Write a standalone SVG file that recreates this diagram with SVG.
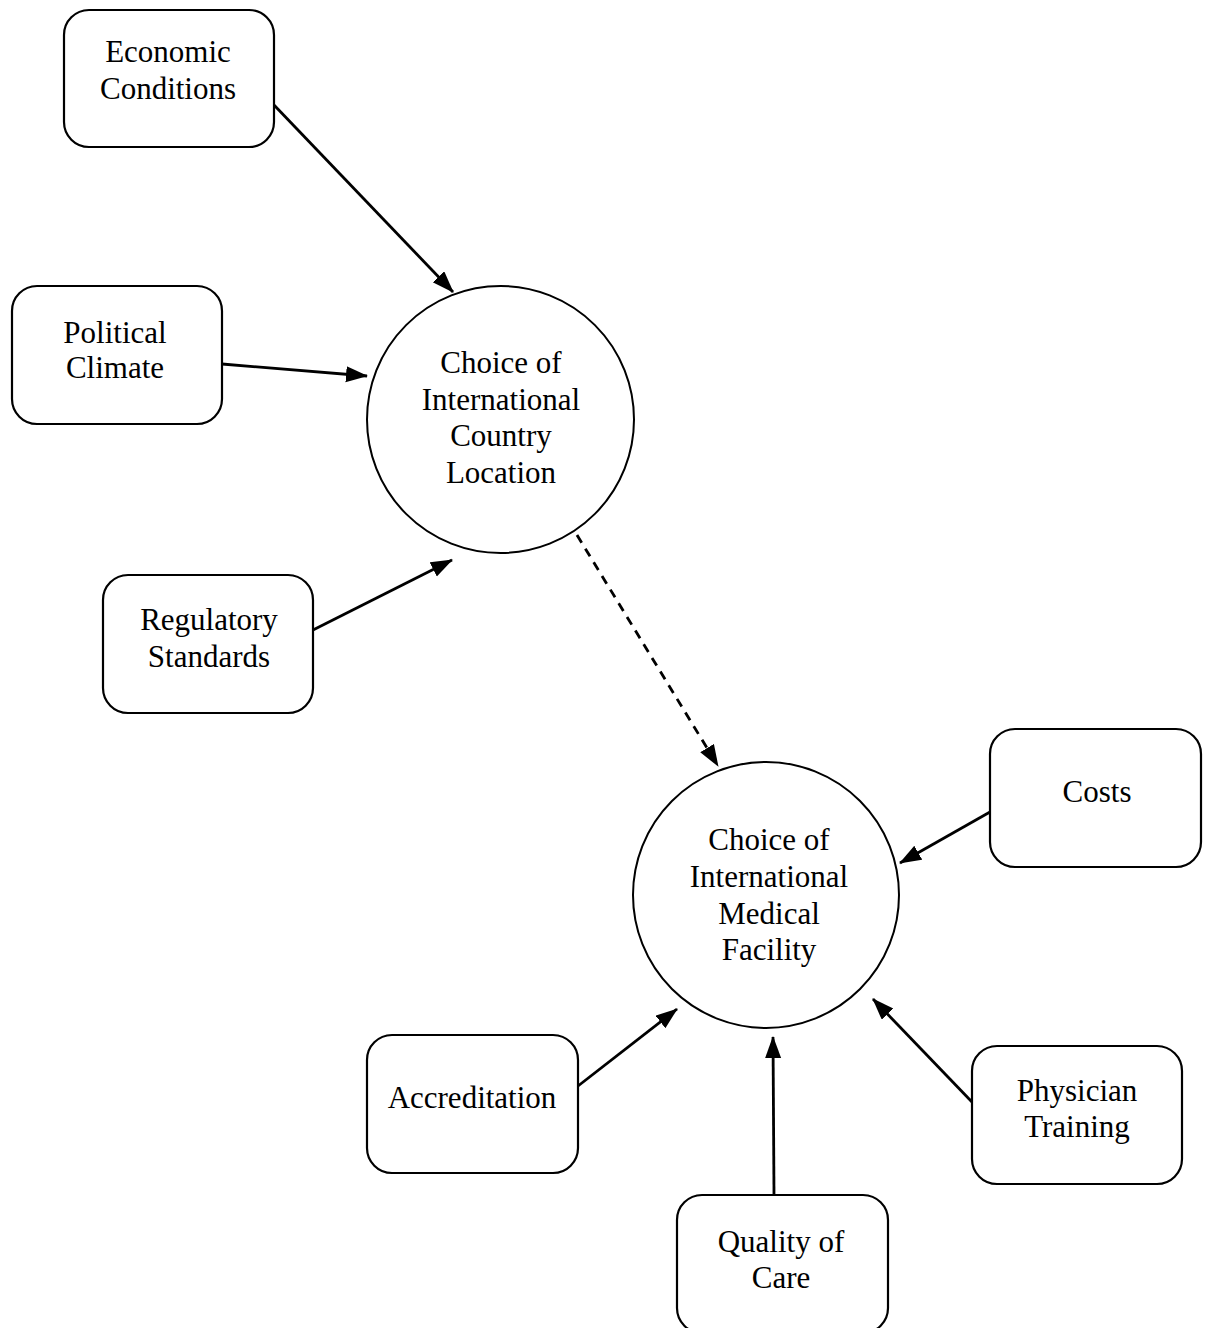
<svg xmlns="http://www.w3.org/2000/svg" width="1208" height="1328" viewBox="0 0 1208 1328">
<style>
.box{fill:#fff;stroke:#000;stroke-width:2.2}
.circ{fill:#fff;stroke:#000;stroke-width:2}
.lbl{font-family:"Liberation Serif","Times New Roman",serif;font-size:31px;fill:#000;text-anchor:middle}
.arr{fill:none;stroke:#000;stroke-width:2.8;marker-end:url(#ah)}
.dash{stroke-dasharray:9 7}
</style>
<defs>
<marker id="ah" markerUnits="userSpaceOnUse" markerWidth="26" markerHeight="20" refX="21" refY="8" orient="auto">
<path d="M0,0 L22,8 L0,16 Z" fill="#000"/>
</marker>
</defs>
<rect width="1208" height="1328" fill="#fff"/>
<g id="connectors">
<line class="arr" x1="274" y1="105" x2="453" y2="292"/>
<line class="arr" x1="222" y1="364" x2="367" y2="376"/>
<line class="arr" x1="313" y1="630" x2="452" y2="560"/>
<line class="arr dash" x1="577" y1="535" x2="718" y2="766"/>
<line class="arr" x1="990" y1="812" x2="900" y2="863"/>
<line class="arr" x1="578" y1="1086" x2="677" y2="1009"/>
<line class="arr" x1="774" y1="1195" x2="773" y2="1037"/>
<line class="arr" x1="972" y1="1102" x2="873" y2="999"/>
</g>
<g id="economic">
<rect class="box" x="64" y="10" width="210" height="137" rx="25"/>
<text class="lbl" x="168" y="62">Economic</text>
<text class="lbl" x="168" y="99">Conditions</text>
</g>
<g id="political">
<rect class="box" x="12" y="286" width="210" height="138" rx="25"/>
<text class="lbl" x="115" y="343">Political</text>
<text class="lbl" x="115" y="378">Climate</text>
</g>
<g id="regulatory">
<rect class="box" x="103" y="575" width="210" height="138" rx="25"/>
<text class="lbl" x="209" y="630">Regulatory</text>
<text class="lbl" x="209" y="667">Standards</text>
</g>
<g id="country">
<circle class="circ" cx="500.5" cy="419.5" r="133.5"/>
<text class="lbl" x="501" y="373">Choice of</text>
<text class="lbl" x="501" y="410">International</text>
<text class="lbl" x="501" y="446">Country</text>
<text class="lbl" x="501" y="483">Location</text>
</g>
<g id="facility">
<circle class="circ" cx="766" cy="895" r="133"/>
<text class="lbl" x="769" y="850">Choice of</text>
<text class="lbl" x="769" y="887">International</text>
<text class="lbl" x="769" y="924">Medical</text>
<text class="lbl" x="769" y="960">Facility</text>
</g>
<g id="costs">
<rect class="box" x="990" y="729" width="211" height="138" rx="25"/>
<text class="lbl" x="1097" y="802">Costs</text>
</g>
<g id="accreditation">
<rect class="box" x="367" y="1035" width="211" height="138" rx="25"/>
<text class="lbl" x="472" y="1108">Accreditation</text>
</g>
<g id="physician">
<rect class="box" x="972" y="1046" width="210" height="138" rx="25"/>
<text class="lbl" x="1077" y="1101">Physician</text>
<text class="lbl" x="1077" y="1137">Training</text>
</g>
<g id="quality">
<rect class="box" x="677" y="1195" width="211" height="138" rx="25"/>
<text class="lbl" x="781" y="1252">Quality of</text>
<text class="lbl" x="781" y="1288">Care</text>
</g>
</svg>
